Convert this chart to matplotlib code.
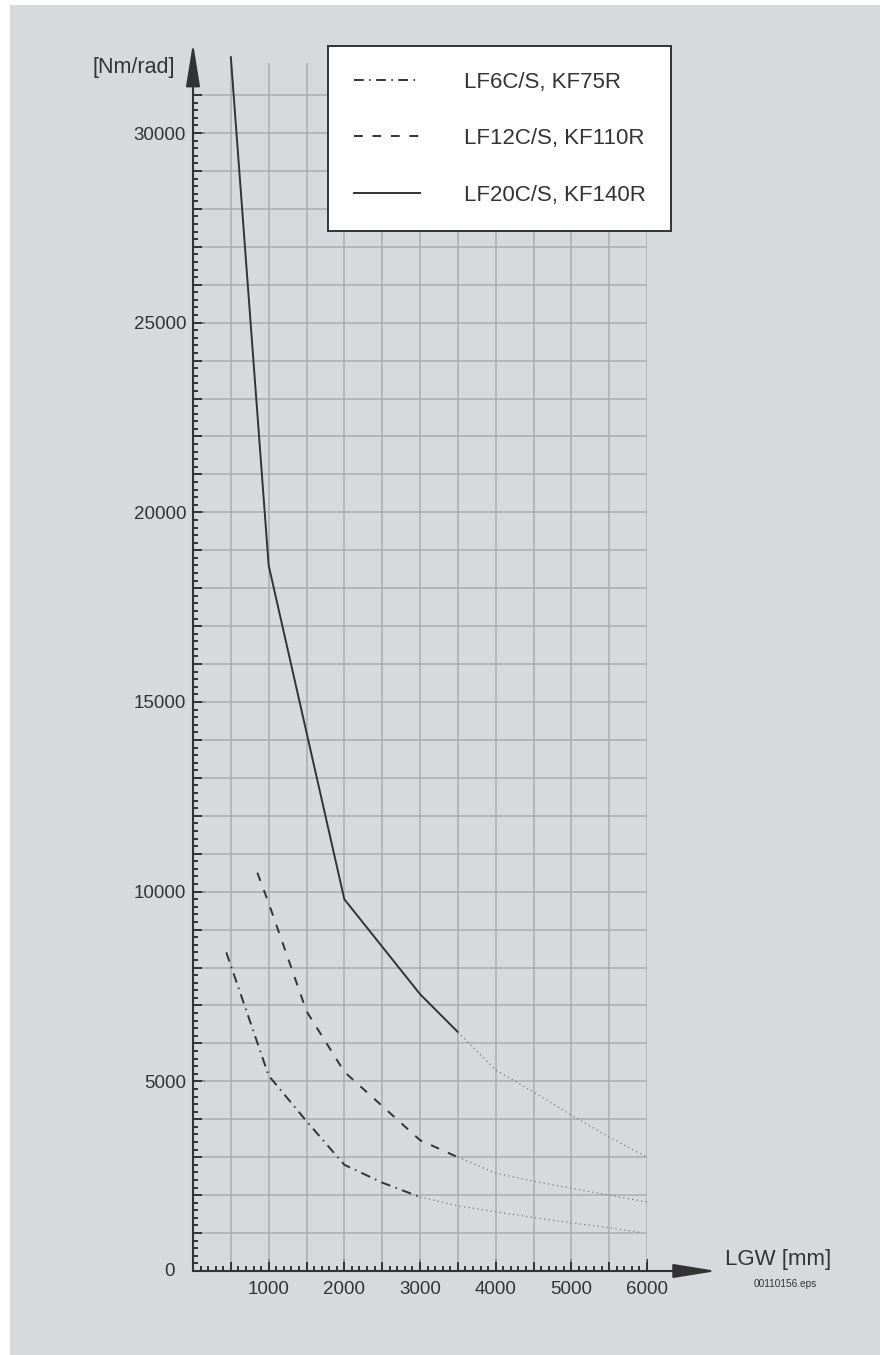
import matplotlib
matplotlib.use("Agg")
import matplotlib.pyplot as plt
from matplotlib.patches import Rectangle

plt.rcParams['font.family'] = ['Liberation Sans', 'DejaVu Sans']

# ---------------- data ----------------
lf6_x = [440, 1000, 1500, 2000, 2500, 3000]
lf6_y = [8400, 5150, 3950, 2800, 2330, 1950]
lf6_ext_x = [3000, 3500, 4000, 4500, 5000, 5500, 5900]
lf6_ext_y = [1950, 1720, 1560, 1410, 1270, 1140, 1020]

lf12_x = [850, 1000, 1500, 2000, 2500, 3000, 3500]
lf12_y = [10500, 9700, 6850, 5250, 4350, 3450, 3000]
lf12_ext_x = [3500, 4000, 4500, 5000, 5500, 6000]
lf12_ext_y = [3000, 2580, 2370, 2180, 2000, 1820]

lf20_x = [500, 1000, 2000, 3000, 3500]
lf20_y = [32000, 18600, 9800, 7300, 6300]
lf20_ext_x = [3500, 4000, 4500, 5000, 5500, 6000]
lf20_ext_y = [6300, 5300, 4720, 4110, 3530, 3000]

labels = ['LF6C/S, KF75R', 'LF12C/S, KF110R', 'LF20C/S, KF140R']

x_grid_ticks = list(range(500, 6001, 500))
x_label_ticks = list(range(1000, 6001, 1000))
y_grid_ticks = list(range(1000, 31001, 1000))
y_label_ticks = list(range(5000, 30001, 5000))

# ---------------- figure ----------------
W, H = 880, 1355
fig = plt.figure(figsize=(W / 100, H / 100), dpi=100, facecolor='white')
fig.patches.append(Rectangle((10 / W, 0), 1 - 10 / W, 1 - 5 / H,
                             transform=fig.transFigure, facecolor='#d8d9dd',
                             edgecolor='none', zorder=-10))

y_top = 31850
px_per_unit_y = 1138 / 30000
ax = fig.add_axes([193 / W, (H - 1271) / H, 454 / W, px_per_unit_y * y_top / H])
ax.set_facecolor('none')
ax.set_xlim(0, 6000)
ax.set_ylim(0, y_top)
for s in ax.spines.values():
    s.set_visible(False)

dark = '#333333'
gridc = '#ababb0'

# ticks
ax.set_xticks(x_grid_ticks, [str(v) if v in x_label_ticks else '' for v in x_grid_ticks])
ax.set_xticks(range(100, 6001, 100), minor=True)
ax.set_yticks(y_grid_ticks, [str(v) if v in y_label_ticks else '' for v in y_grid_ticks])
ax.set_yticks(range(200, 31001, 200), minor=True)
ax.tick_params(axis='both', which='major', direction='in', length=6.5, width=1.4,
               color=dark, labelsize=13.5, labelcolor=dark)
ax.tick_params(axis='both', which='minor', direction='in', length=3.6, width=1.4, color=dark)
ax.tick_params(axis='x', which='major', pad=7)
ax.tick_params(axis='y', which='major', pad=5)
ax.grid(True, which='major', color=gridc, linewidth=1.1, zorder=0)
ax.set_axisbelow(True)

secx = ax.secondary_xaxis('bottom')
secx.set_xticks(x_label_ticks, ['' for _ in x_label_ticks])
secx.tick_params(direction='in', length=8.6, width=1.4, color=dark)
for s in secx.spines.values():
    s.set_visible(False)
secy = ax.secondary_yaxis('left')
secy.set_yticks(y_label_ticks, ['' for _ in y_label_ticks])
secy.tick_params(direction='in', length=8.6, width=1.4, color=dark)
for s in secy.spines.values():
    s.set_visible(False)

ax.annotate('0', xy=(0, 0), xytext=(-13, 0), textcoords='offset points',
            ha='right', va='center', fontsize=13.5, color=dark)

# axis arrows
ax.annotate('', xy=(0, 32375), xytext=(0, 0), xycoords='data',
            arrowprops=dict(arrowstyle='-|>,head_length=2.66,head_width=0.43',
                            mutation_scale=10, lw=1.5, color=dark,
                            shrinkA=0, shrinkB=0), annotation_clip=False)
ax.annotate('', xy=(6922, 0), xytext=(0, 0), xycoords='data',
            arrowprops=dict(arrowstyle='-|>,head_length=2.66,head_width=0.43',
                            mutation_scale=10, lw=1.5, color=dark,
                            shrinkA=0, shrinkB=0), annotation_clip=False)

# curves
lw = 1.4
l6, = ax.plot(lf6_x, lf6_y, color=dark, lw=lw, linestyle=(0, (5, 2.8, 0.8, 2.8)),
              label=labels[0], clip_on=False, zorder=3)
l12, = ax.plot(lf12_x, lf12_y, color=dark, lw=lw, linestyle=(0, (4.5, 5)),
               label=labels[1], clip_on=False, zorder=3)
l20, = ax.plot(lf20_x, lf20_y, color=dark, lw=lw, linestyle='-',
               label=labels[2], clip_on=False, zorder=3)
for xs, ys in [(lf6_ext_x, lf6_ext_y), (lf12_ext_x, lf12_ext_y), (lf20_ext_x, lf20_ext_y)]:
    ax.plot(xs, ys, color='#7a7a7a', lw=0.9, linestyle=(0, (1, 2.6)), zorder=3)

leg = ax.legend(handles=[l6, l12, l20], loc='upper left',
                bbox_to_anchor=(328 / W, 1 - 46 / H), bbox_transform=fig.transFigure,
                borderaxespad=0, fontsize=16, frameon=True, fancybox=False,
                handlelength=2.97, handletextpad=1.98, labelspacing=1.6,
                borderpad=1.15, framealpha=1)
leg.get_frame().set_edgecolor(dark)
leg.get_frame().set_linewidth(1.4)
leg.get_frame().set_facecolor('white')
for t in leg.get_texts():
    t.set_color(dark)

fig.text(134 / W, 1 - 68 / H, '[Nm/rad]', ha='center', va='center', fontsize=15.5, color=dark)
fig.text(778 / W, 1 - 1260 / H, 'LGW [mm]', ha='center', va='center', fontsize=16, color=dark)
fig.text(785 / W, 1 - 1284 / H, '00110156.eps', ha='center', va='center', fontsize=7.3, color=dark)

fig.savefig('out.png', dpi=100, facecolor='white')
